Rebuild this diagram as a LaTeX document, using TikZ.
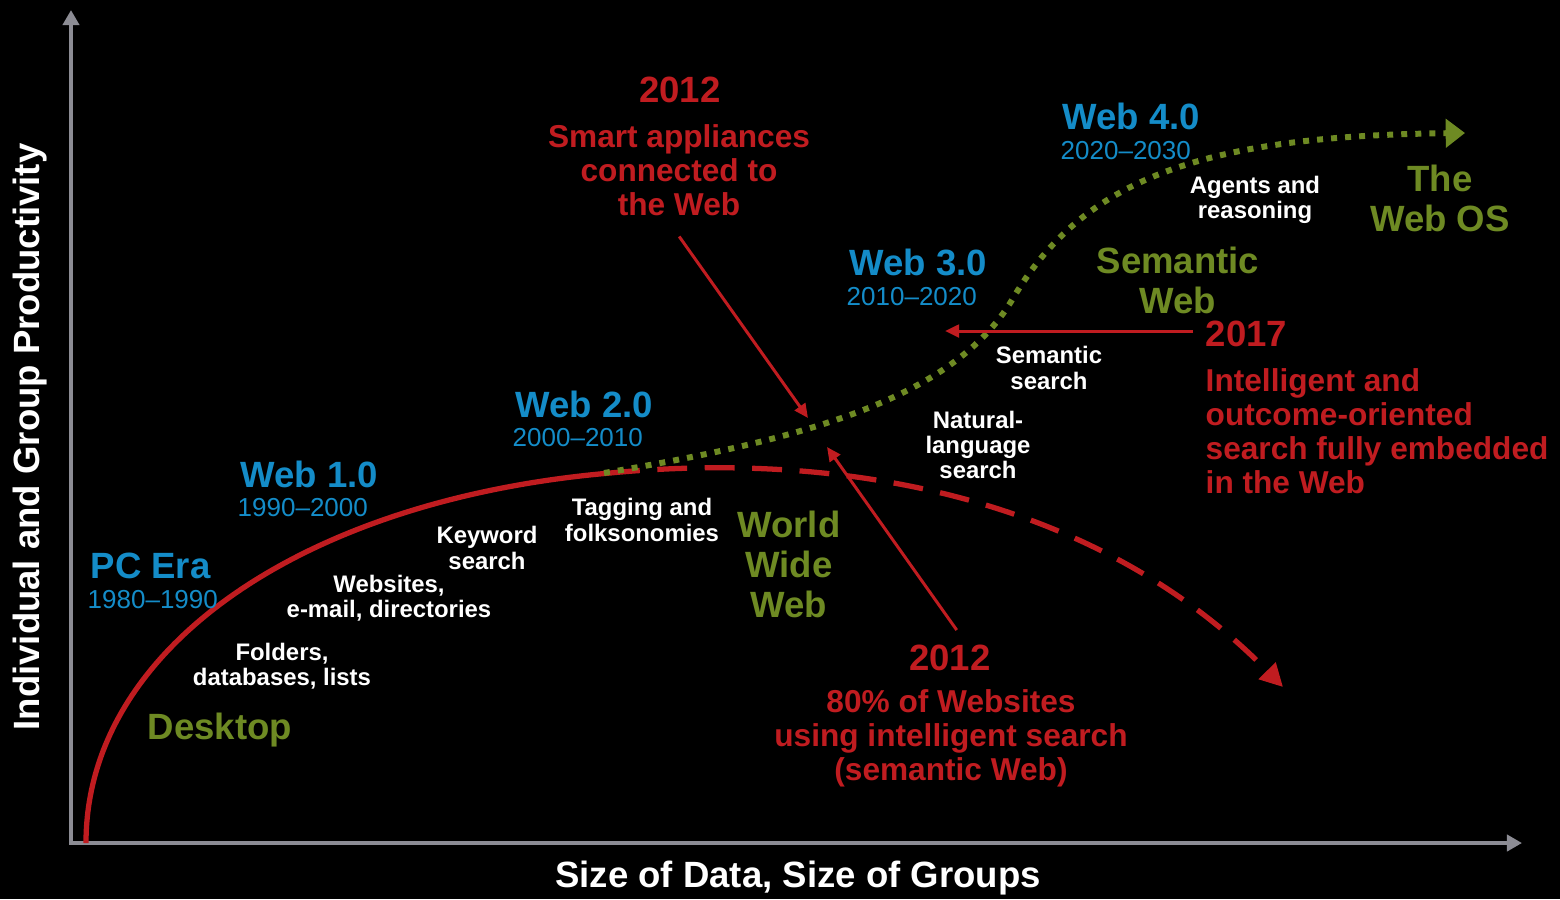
\documentclass[tikz,border=0pt]{standalone}
\usepackage{fontspec}
\setmainfont{Liberation Sans}
\usetikzlibrary{arrows.meta}
\definecolor{webblue}{RGB}{20,140,200}
\definecolor{webgreen}{RGB}{110,138,35}
\definecolor{webred}{RGB}{192,28,32}
\definecolor{axisgray}{RGB}{140,140,148}
\tikzset{
	heading/.style={font=\bfseries\fontsize{10.4}{11.4}\selectfont, inner sep=0pt, align=center}
}
\tikzset{
	years/.style={font=\fontsize{7.4}{8}\selectfont, text=webblue, inner sep=0pt, anchor=west}
}
\tikzset{
	redtext/.style={font=\bfseries\fontsize{9}{9.7}\selectfont, text=webred, inner sep=0pt, align=center},
	whitetext/.style={font=\bfseries\fontsize{6.8}{7.2}\selectfont, text=white, inner sep=0pt, align=center}
}
\tikzset{
	axisline/.style={draw=axisgray, line width=1.15pt, line join=miter,
		{Triangle[length=4.3pt, width=4.6pt]}-{Triangle[length=4.3pt, width=4.6pt]}},
	redcurve/.style={draw=webred, line width=1.5pt},
	dashcurve/.style={redcurve, dash pattern=on 8.5pt off 5pt, -{Triangle[length=6.5pt, width=6.5pt]}},
	dotcurve/.style={draw=webgreen, line width=1.7pt, dash pattern=on 1.7pt off 2.3pt,
		-{Triangle[length=5.5pt, width=8pt]}},
	pointer/.style={draw=webred, line width=0.85pt, -{Triangle[length=4pt, width=3.6pt]}}
}

\begin{document}
\begin{tikzpicture}[x=0.1mm, y=-0.1mm]
      \useasboundingbox (0,0) rectangle (1560,899);
      \fill[black] (0,0) rectangle (1560,899);
      % axes
      \coordinate (ytop) at (71,10);
      \coordinate (xend) at (1522,843);
      \draw[axisline] (ytop) |- (xend);
      % growth curves
      \coordinate (curvestart) at (86,843);
      \coordinate (web2pt) at (610,473);
      \coordinate (droptip) at (1283,687);
      \coordinate (dotstart) at (604,473);
      \coordinate (dotmid) at (1012,300);
      \coordinate (webostip) at (1465,133);
      \draw[redcurve] (curvestart) .. controls (86,650) and (300,500) .. (web2pt);
      \draw[dashcurve] (web2pt) .. controls (850,450) and (1100,500) .. (droptip);
      \draw[dotcurve] (dotstart) .. controls (800,440) and (952,400) .. (dotmid)
                      .. controls (1082,180) and (1200,136) .. (webostip);
      % eras and years
      \node[heading, text=webblue, anchor=west] (pcera) at (90,566) {PC Era};
      \node[years] (pcyears) at (87,600) {1980--1990};
      \node[heading, text=webblue, anchor=west] (webone) at (240,474) {Web 1.0};
      \node[years] (weboneyears) at (237,508) {1990--2000};
      \node[heading, text=webblue, anchor=west] (webtwo) at (515,404) {Web 2.0};
      \node[years] (webtwoyears) at (512,438) {2000--2010};
      \node[heading, text=webblue, anchor=west] (webthree) at (849,262) {Web 3.0};
      \node[years] (webthreeyears) at (846,297) {2010--2020};
      \node[heading, text=webblue, anchor=west] (webfour) at (1062,116) {Web 4.0};
      \node[years] (webfouryears) at (1060,151) {2020--2030};
      % stages
      \node[heading, text=webgreen, anchor=west] (desktop) at (147,730) {Desktop};
      \node[heading, text=webgreen] (www) at (789,564) {World\\Wide\\Web};
      \node[heading, text=webgreen] (semweb) at (1178,280) {Semantic\\Web};
      \node[heading, text=webgreen] (webos) at (1440,198) {The\\Web OS};
      % technologies along the curves
      \node[whitetext] (folders) at (282,666) {Folders,\\databases, lists};
      \node[whitetext] (websites) at (389,598) {Websites,\\e-mail, directories};
      \node[whitetext] (keyword) at (487,548) {Keyword\\search};
      \node[whitetext] (tagging) at (642,520) {Tagging and\\folksonomies};
      \node[whitetext] (natural) at (978,445) {Natural-\\language\\search};
      \node[whitetext] (semsearch) at (1049,368) {Semantic\\search};
      \node[whitetext] (agents) at (1255,200) {Agents and\\reasoning};
      % forecasts
      \node[heading, text=webred] (topyear) at (680,90) {2012};
      \node[redtext] (smart) at (679,170) {Smart appliances\\connected to\\the Web};
      \node[heading, text=webred] (lowyear) at (950,658) {2012};
      \node[redtext] (eighty) at (951,738) {80\% of Websites\\using intelligent search\\(semantic Web)};
      \node[heading, text=webred, anchor=west] (midyear) at (1205,334) {2017};
      \node[redtext, anchor=west, align=left] (embedded) at (1205,431)
            {Intelligent and\\outcome-oriented\\search fully embedded\\in the Web};
      \coordinate (smarttip) at (808,418);
      \coordinate (eightytip) at (827,447);
      \coordinate (embedtip) at (945,331);
      \draw[pointer, shorten <=7pt] ([xshift=-4pt]smart.south) -- (smarttip);
      \draw[pointer, shorten <=5pt] ([xshift=4.8pt]lowyear.north) -- (eightytip);
      \draw[pointer, shorten <=3.4pt] (midyear.west |- embedtip) -- (embedtip);
      % axis labels
      \node[heading, text=white] (xlabel) at (798,878) {Size of Data, Size of Groups};
      \node[heading, text=white, rotate=90] (ylabel) at (30,437) {Individual and Group Productivity};
    \end{tikzpicture}
\end{document}
